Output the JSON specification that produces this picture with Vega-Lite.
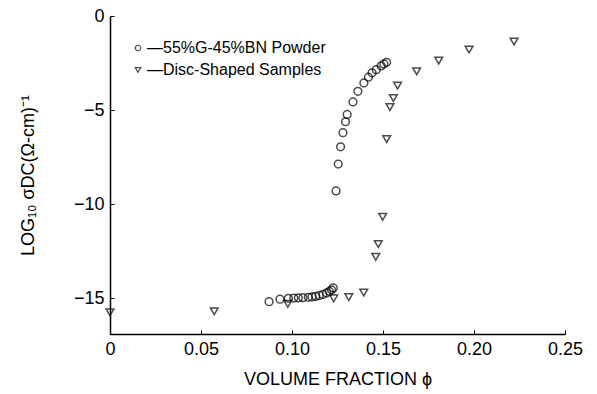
{
  "$schema": "https://vega.github.io/schema/vega-lite/v6.json",
  "width": 455,
  "height": 318,
  "autosize": {"type": "none"},
  "padding": {"left": 110, "top": 16, "right": 32, "bottom": 60},
  "background": "white",
  "config": {
    "font": "Liberation Sans",
    "view": {"stroke": null},
    "axis": {"grid": false, "domainColor": "black", "tickColor": "black", "labelColor": "black", "titleColor": "black", "labelFontSize": 18, "titleFontSize": 18, "titleFontWeight": "normal", "tickSize": -4, "domainWidth": 1.5}
  },
  "data": {
    "values": [
      {"phi": 0.0874, "logsigma": -15.18, "series": "55%G-45%BN Powder"},
      {"phi": 0.0934, "logsigma": -15.05, "series": "55%G-45%BN Powder"},
      {"phi": 0.098, "logsigma": -15.0, "series": "55%G-45%BN Powder"},
      {"phi": 0.101, "logsigma": -14.99, "series": "55%G-45%BN Powder"},
      {"phi": 0.1035, "logsigma": -14.98, "series": "55%G-45%BN Powder"},
      {"phi": 0.106, "logsigma": -14.97, "series": "55%G-45%BN Powder"},
      {"phi": 0.109, "logsigma": -14.95, "series": "55%G-45%BN Powder"},
      {"phi": 0.111, "logsigma": -14.93, "series": "55%G-45%BN Powder"},
      {"phi": 0.113, "logsigma": -14.9, "series": "55%G-45%BN Powder"},
      {"phi": 0.115, "logsigma": -14.85, "series": "55%G-45%BN Powder"},
      {"phi": 0.117, "logsigma": -14.8, "series": "55%G-45%BN Powder"},
      {"phi": 0.119, "logsigma": -14.72, "series": "55%G-45%BN Powder"},
      {"phi": 0.1205, "logsigma": -14.64, "series": "55%G-45%BN Powder"},
      {"phi": 0.1217, "logsigma": -14.55, "series": "55%G-45%BN Powder"},
      {"phi": 0.1227, "logsigma": -14.45, "series": "55%G-45%BN Powder"},
      {"phi": 0.1242, "logsigma": -9.3, "series": "55%G-45%BN Powder"},
      {"phi": 0.1254, "logsigma": -7.87, "series": "55%G-45%BN Powder"},
      {"phi": 0.1267, "logsigma": -6.95, "series": "55%G-45%BN Powder"},
      {"phi": 0.128, "logsigma": -6.2, "series": "55%G-45%BN Powder"},
      {"phi": 0.1294, "logsigma": -5.62, "series": "55%G-45%BN Powder"},
      {"phi": 0.1303, "logsigma": -5.23, "series": "55%G-45%BN Powder"},
      {"phi": 0.1335, "logsigma": -4.57, "series": "55%G-45%BN Powder"},
      {"phi": 0.1362, "logsigma": -4.0, "series": "55%G-45%BN Powder"},
      {"phi": 0.1395, "logsigma": -3.56, "series": "55%G-45%BN Powder"},
      {"phi": 0.142, "logsigma": -3.25, "series": "55%G-45%BN Powder"},
      {"phi": 0.144, "logsigma": -3.02, "series": "55%G-45%BN Powder"},
      {"phi": 0.1463, "logsigma": -2.85, "series": "55%G-45%BN Powder"},
      {"phi": 0.149, "logsigma": -2.65, "series": "55%G-45%BN Powder"},
      {"phi": 0.1505, "logsigma": -2.55, "series": "55%G-45%BN Powder"},
      {"phi": 0.152, "logsigma": -2.46, "series": "55%G-45%BN Powder"},
      {"phi": 0.0, "logsigma": -15.75, "series": "Disc-Shaped Samples"},
      {"phi": 0.0573, "logsigma": -15.69, "series": "Disc-Shaped Samples"},
      {"phi": 0.0977, "logsigma": -15.3, "series": "Disc-Shaped Samples"},
      {"phi": 0.1229, "logsigma": -15.01, "series": "Disc-Shaped Samples"},
      {"phi": 0.1312, "logsigma": -14.94, "series": "Disc-Shaped Samples"},
      {"phi": 0.1394, "logsigma": -14.7, "series": "Disc-Shaped Samples"},
      {"phi": 0.146, "logsigma": -12.8, "series": "Disc-Shaped Samples"},
      {"phi": 0.1474, "logsigma": -12.12, "series": "Disc-Shaped Samples"},
      {"phi": 0.1498, "logsigma": -10.67, "series": "Disc-Shaped Samples"},
      {"phi": 0.152, "logsigma": -6.54, "series": "Disc-Shaped Samples"},
      {"phi": 0.1538, "logsigma": -4.84, "series": "Disc-Shaped Samples"},
      {"phi": 0.1557, "logsigma": -4.36, "series": "Disc-Shaped Samples"},
      {"phi": 0.158, "logsigma": -3.7, "series": "Disc-Shaped Samples"},
      {"phi": 0.1685, "logsigma": -2.94, "series": "Disc-Shaped Samples"},
      {"phi": 0.1806, "logsigma": -2.37, "series": "Disc-Shaped Samples"},
      {"phi": 0.1973, "logsigma": -1.78, "series": "Disc-Shaped Samples"},
      {"phi": 0.222, "logsigma": -1.36, "series": "Disc-Shaped Samples"}
    ]
  },
  "mark": {"type": "point", "filled": false, "stroke": "black", "strokeWidth": 1.5, "size": 60, "clip": false},
  "encoding": {
    "x": {
      "field": "phi", "type": "quantitative",
      "scale": {"domain": [0, 0.25], "nice": false, "zero": false},
      "axis": {"title": "VOLUME FRACTION ϕ", "values": [0, 0.05, 0.1, 0.15, 0.2, 0.25], "labelExpr": "datum.value == 0 ? '0' : format(datum.value, '.2f')", "labelPadding": 10, "titlePadding": 12, "labelFlush": false}
    },
    "y": {
      "field": "logsigma", "type": "quantitative",
      "scale": {"domain": [-16.9, 0], "nice": false, "zero": false},
      "axis": {"title": "LOG₁₀ σDC(Ω-cm)⁻¹", "values": [0, -5, -10, -15], "labelPadding": 10, "titlePadding": 36, "labelFlush": false}
    },
    "shape": {
      "field": "series", "type": "nominal",
      "scale": {"domain": ["55%G-45%BN Powder", "Disc-Shaped Samples"], "range": ["circle", "triangle-down"]},
      "legend": {
        "title": null, "orient": "none", "legendX": 20, "legendY": 24,
        "labelExpr": "'—' + datum.label", "labelFontSize": 16, "labelOffset": 1, "labelLimit": 0,
        "symbolSize": 30, "symbolStrokeColor": "black", "symbolStrokeWidth": 1.2, "symbolFillColor": "transparent",
        "rowPadding": 6, "labelColor": "black"
      }
    }
  }
}
